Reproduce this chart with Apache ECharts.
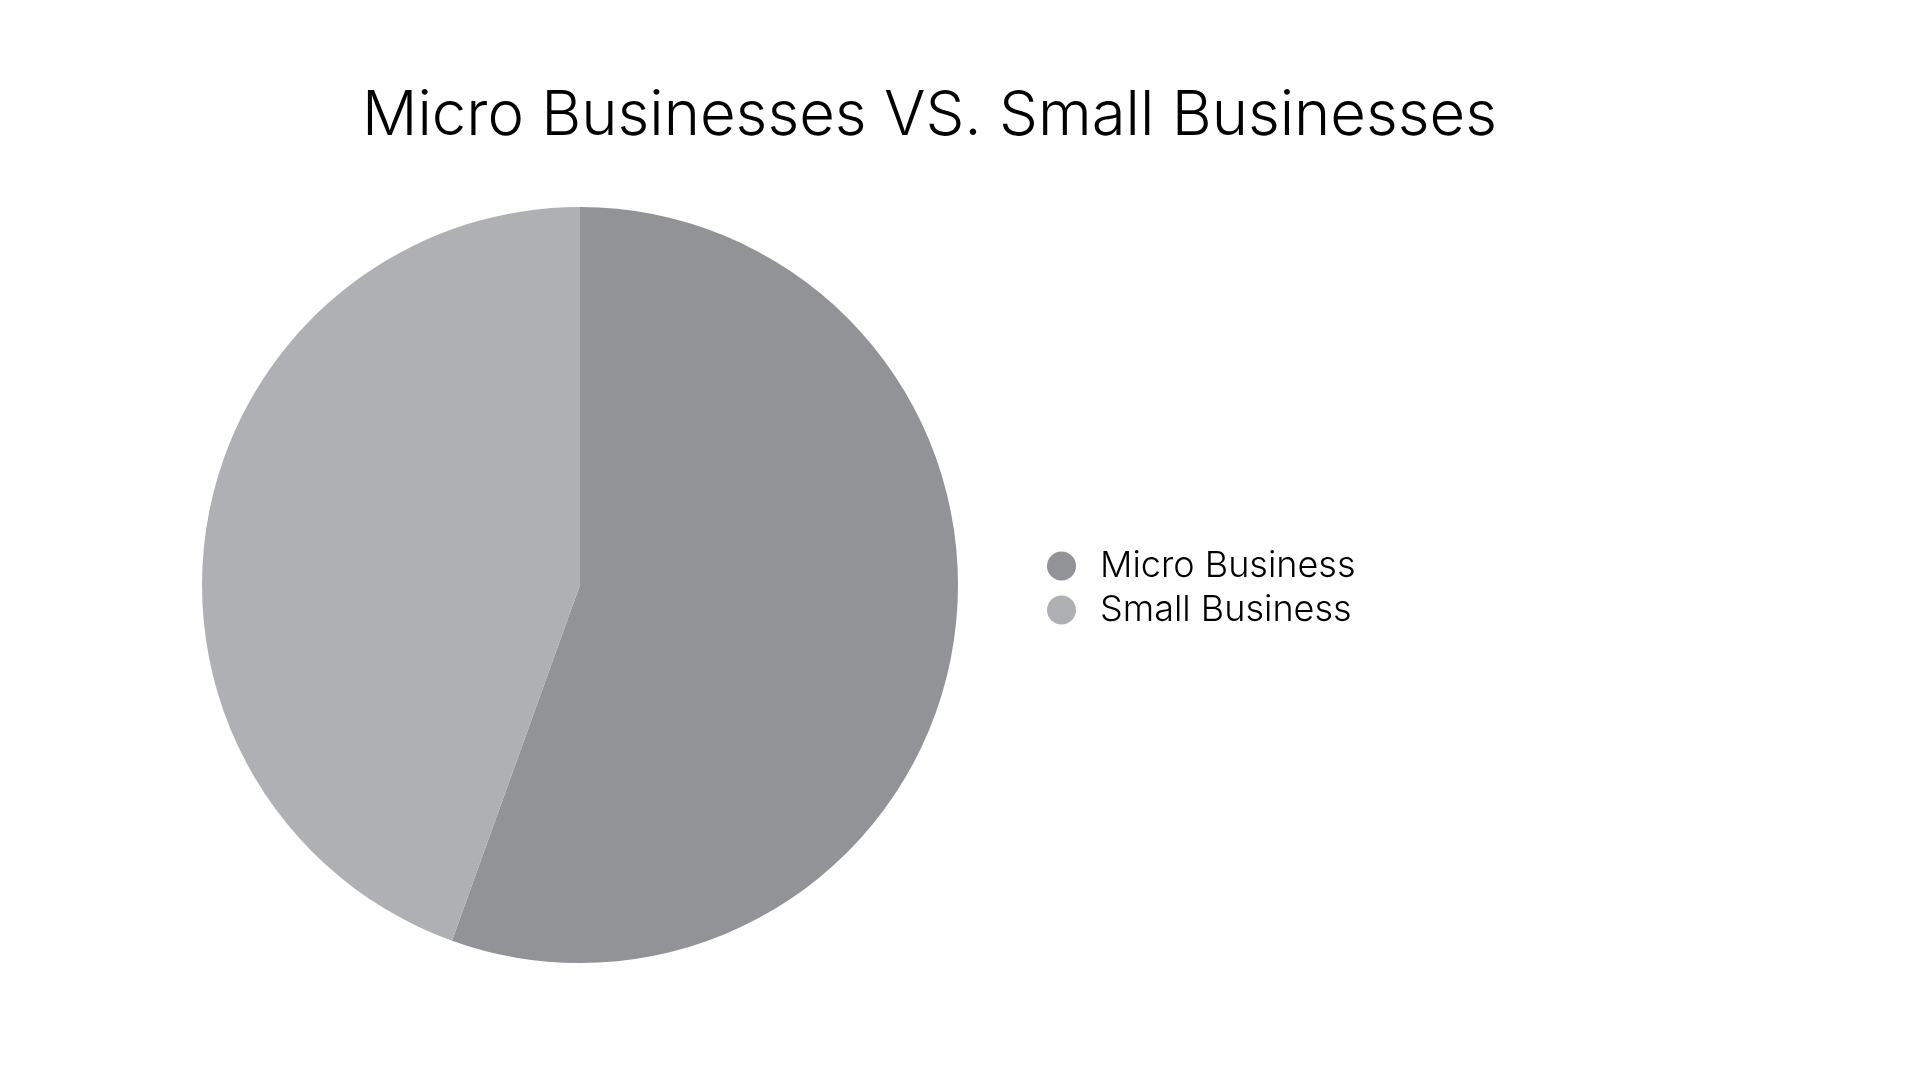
<!DOCTYPE html>
<html>
<head>
<meta charset="utf-8">
<style>html,body{margin:0;padding:0;background:#fff;}#c{width:1920px;height:1080px;}</style>
<script src="https://cdn.jsdelivr.net/npm/echarts@6/dist/echarts.min.js"></script>
</head>
<body>
<div id="c"></div>
<script>
const titleText = 'Micro Businesses VS. Small Businesses';
const categories = ['Micro Business', 'Small Business'];
const values = [55.5, 44.5];
const colors = ['#919397', '#AFB0B3'];

const chart = echarts.init(document.getElementById('c'), null, {renderer: 'canvas'});
chart.setOption({
  backgroundColor: '#ffffff',
  animation: false,
  title: {
    text: titleText,
    left: 362,
    top: 85,
    padding: 0,
    textStyle: {fontFamily: 'Inter', fontWeight: 300, fontSize: 61.6, color: '#000'}
  },
  legend: {
    orient: 'vertical',
    left: 1047,
    top: 548,
    padding: 0,
    icon: 'circle',
    itemWidth: 29,
    itemHeight: 29,
    itemGap: 8,
    data: categories,
    textStyle: {fontFamily: 'Inter', fontWeight: 300, fontSize: 36, lineHeight: 29, color: '#000', padding: [0, 0, 0, 19]}
  },
  series: [{
    type: 'pie',
    center: [580, 585],
    radius: 378,
    startAngle: 90,
    clockwise: true,
    label: {show: false},
    labelLine: {show: false},
    itemStyle: {borderWidth: 0},
    emphasis: {disabled: true},
    data: categories.map((n, i) => ({name: n, value: values[i], itemStyle: {color: colors[i]}}))
  }]
});
</script>
</body>
</html>
